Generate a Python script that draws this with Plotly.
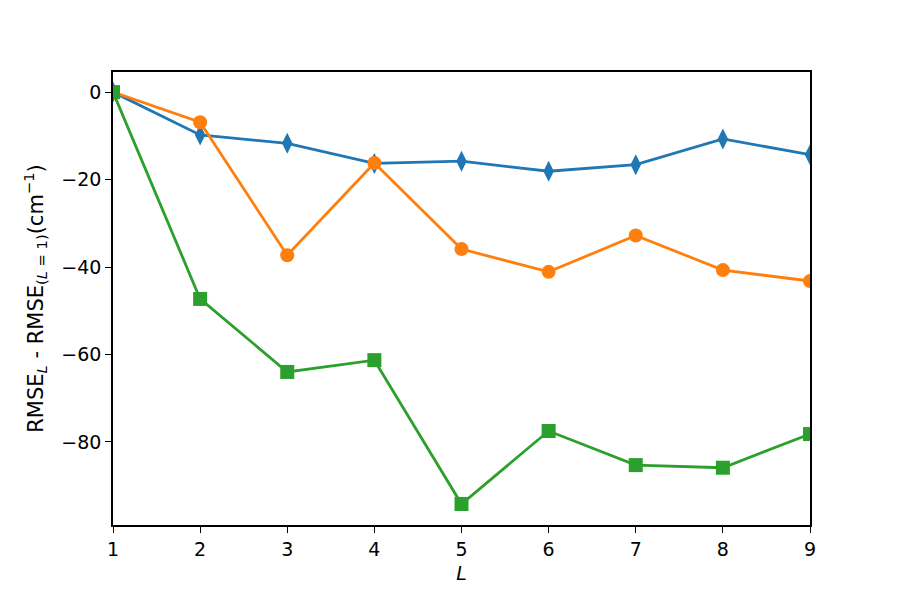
import plotly.graph_objects as go

L = [1, 2, 3, 4, 5, 6, 7, 8, 9]
blue = [0, -9.8, -11.7, -16.3, -15.8, -18.1, -16.6, -10.7, -14.3]
orange = [0, -6.9, -37.3, -16.2, -35.9, -41.1, -32.8, -40.7, -43.2]
green = [0, -47.3, -64.0, -61.3, -94.2, -77.5, -85.3, -85.9, -78.2]
yticks = [0, -20, -40, -60, -80]
yticklabels = ["0", "\u221220", "\u221240", "\u221260", "\u221280"]

fig = go.Figure()
fig.add_trace(go.Scatter(x=L, y=blue, mode="lines+markers",
                         line=dict(color="#1f77b4", width=2.8),
                         marker=dict(symbol="diamond-tall", size=15, color="#1f77b4")))
fig.add_trace(go.Scatter(x=L, y=orange, mode="lines+markers",
                         line=dict(color="#ff7f0e", width=2.8),
                         marker=dict(symbol="circle", size=14, color="#ff7f0e")))
fig.add_trace(go.Scatter(x=L, y=green, mode="lines+markers",
                         line=dict(color="#2ca02c", width=2.8),
                         marker=dict(symbol="square", size=14, color="#2ca02c")))

FS = 19
axis_common = dict(showline=True, linecolor="black", linewidth=1.5, mirror=True,
                   ticks="outside", ticklen=6, tickwidth=1.3, tickcolor="black",
                   showgrid=False, zeroline=False,
                   tickfont=dict(family="DejaVu Sans", size=FS, color="black"))

fig.update_layout(
    width=900, height=600,
    margin=dict(l=113, r=90, t=72, b=75),
    plot_bgcolor="white", paper_bgcolor="white",
    showlegend=False,
    font=dict(family="DejaVu Sans", size=FS, color="black"),
    xaxis=dict(range=[1, 9], tickvals=L, title=dict(text="<i>L</i>", standoff=8,
               font=dict(family="DejaVu Sans", size=FS)), **axis_common),
    yaxis=dict(range=[-99, 4.6], tickvals=yticks, ticktext=yticklabels,
               title=dict(text="RMSE<sub><i>L</i></sub> - RMSE<sub>(<i>L</i> = 1)</sub>(cm<sup>\u22121</sup>)",
                          standoff=12, font=dict(family="DejaVu Sans", size=21)),
               **axis_common),
)

fig.write_html("out.html")
